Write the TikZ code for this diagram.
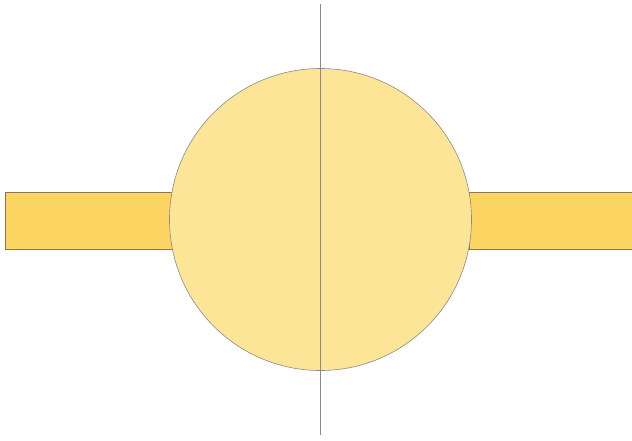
\documentclass[tikz,border=0pt]{standalone}
\usepackage{xcolor}
\usepackage{tikz}
\usetikzlibrary{positioning}
\definecolor{barfill}{HTML}{FCD462}
\definecolor{barline}{HTML}{8C7A4A}
\definecolor{discfill}{HTML}{FDE598}
\definecolor{axisgray}{HTML}{8A8A8A}

\begin{document}
\begin{tikzpicture}[x=1pt,y=-1pt]
\useasboundingbox (0,0) rectangle (632,440);
\clip (0,0) rectangle (632,440);
\node[draw=barline,fill=barfill,line width=0.6pt,minimum width=180pt,minimum height=57pt,inner sep=0pt,anchor=west] (lbar) at (5,220.5) {};
\node[draw=barline,fill=barfill,line width=0.6pt,minimum width=180pt,minimum height=57pt,inner sep=0pt,anchor=east] (rbar) at (650,220.5) {};
\node[circle,draw=axisgray,fill=discfill,line width=0.6pt,minimum size=302pt,inner sep=0pt] (disc) at (320.5,219.5) {};
\coordinate (top) at (320.5,4);
\coordinate (bot) at (320.5,435);
\draw[axisgray,line width=0.8pt] (top)--(bot);
\end{tikzpicture}
\end{document}
